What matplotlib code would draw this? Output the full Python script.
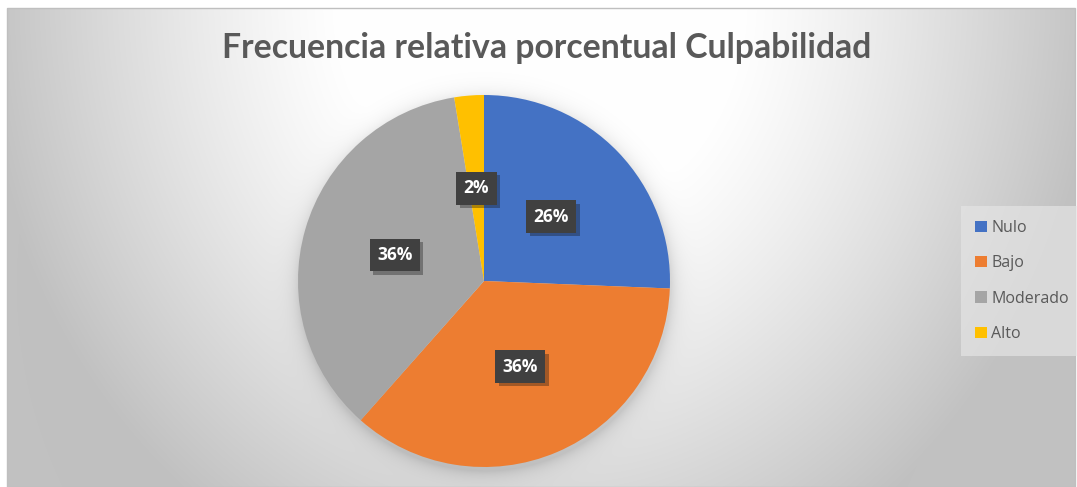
import numpy as np
import matplotlib.pyplot as plt
from matplotlib import patheffects
from matplotlib.patches import Rectangle

categories = ['Nulo', 'Bajo', 'Moderado', 'Alto']
counts = [10, 14, 14, 1]
pct_labels = ['26%', '36%', '36%', '2%']
colors = ['#4472C4', '#ED7D31', '#A5A5A5', '#FFC000']

W, H = 1077, 487
fig = plt.figure(figsize=(W / 100, H / 100), dpi=100)

# chart area background: radial grey gradient (white near the title)
x0, y0, x1, y1 = 7, 8, 1075, 487
yy, xx = np.mgrid[y0:y1, x0:x1] + 0.5
r = np.sqrt(((xx - 540) / 560) ** 2 + (yy / 630) ** 2)
t = np.clip((r - 0.35) / 0.65, 0, 1) ** 1.2
c = 255 - 62 * t
# soft shadow under the pie
d = np.sqrt((xx - 485) ** 2 + (yy - 285) ** 2) - 186
c = c - 30 * np.exp(-np.clip(d, 0, None) / 8)
c = np.clip(c, 0, 255) / 255.0

bg = fig.add_axes([0, 0, 1, 1])
bg.imshow(np.dstack([c, c, c]), extent=(x0, x1, y1, y0), interpolation='bilinear')
bg.add_patch(Rectangle((x0, y0), x1 - x0, y1 - y0, fill=False, edgecolor='#bfbfbf', lw=1))
bg.set_xlim(0, W)
bg.set_ylim(H, 0)
bg.axis('off')

# pie
cx, cy, rad = 484, 281, 186
ax = fig.add_axes([(cx - rad) / W, (H - cy - rad) / H, 2 * rad / W, 2 * rad / H])
wedges, _ = ax.pie(counts, colors=colors, startangle=90, counterclock=False,
                   radius=1, wedgeprops=dict(linewidth=0))
ax.set_xlim(-1, 1)
ax.set_ylim(-1, 1)

for w, lab in zip(wedges, pct_labels):
    ang = np.deg2rad((w.theta1 + w.theta2) / 2)
    txt = ax.text(0.5 * np.cos(ang), 0.5 * np.sin(ang), lab, ha='center', va='center',
                  fontsize=12.5, fontweight='bold', color='white', family='Open Sans',
                  bbox=dict(boxstyle='square,pad=0.42', fc='#404040', ec='none'))
    txt.get_bbox_patch().set_path_effects([
        patheffects.SimplePatchShadow(offset=(2.5, -2.5), alpha=0.35),
        patheffects.Normal()])

fig.text(547 / W, 1 - 48 / H, 'Frecuencia relativa porcentual Culpabilidad',
         ha='center', va='center', fontsize=24.3, fontweight='bold',
         color='#595959', family='Lato')

fig.legend(wedges, categories, loc='center left', bbox_to_anchor=(961 / W, 1 - 281 / H),
           frameon=True, facecolor='#e4e4e4', edgecolor='none', framealpha=0.7,
           fancybox=False, labelcolor='#595959',
           prop={'family': 'Open Sans', 'size': 11.5},
           handlelength=0.7, handleheight=0.7, handletextpad=0.3,
           labelspacing=1.2, borderpad=0.9, borderaxespad=0)

fig.savefig('out.png', dpi=100, facecolor='white')
